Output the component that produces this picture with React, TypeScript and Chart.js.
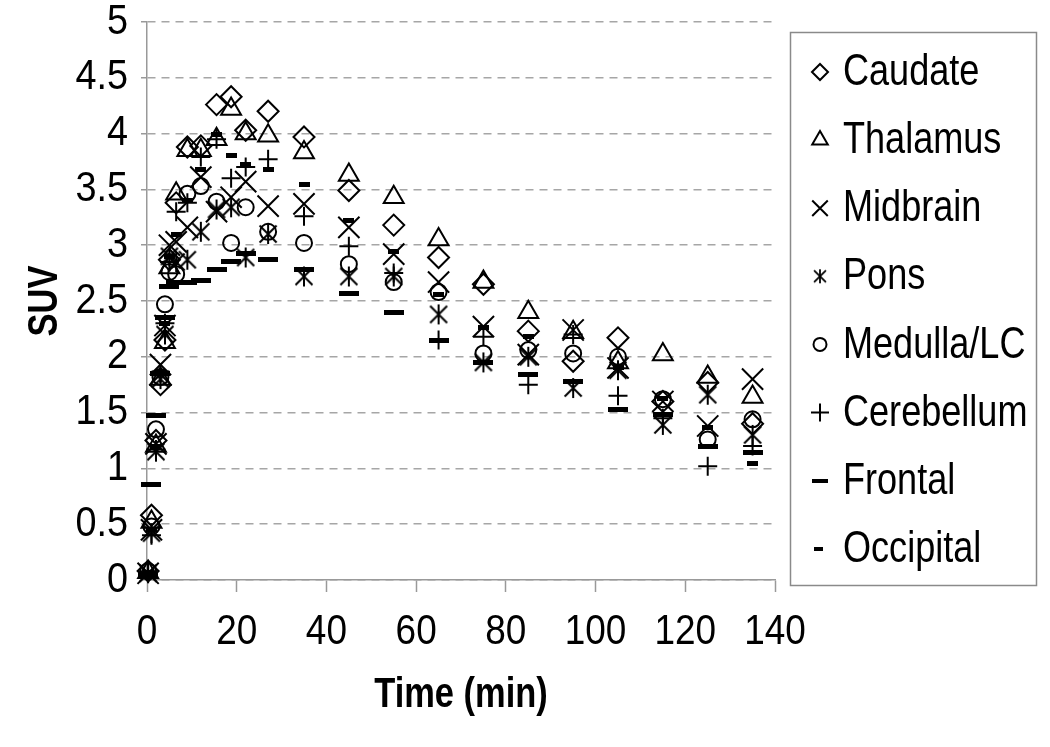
import React, { useEffect, useRef } from "react";
import { Chart, registerables } from "chart.js";
import { drawPoint } from "chart.js/helpers";

Chart.register(...registerables);

// ---- data ----
const times = [0.25, 1, 2, 3, 4, 5, 6.5, 9, 12, 15.5, 18.75, 22, 27, 35, 45, 55, 65, 75, 85, 95, 105, 115, 125, 135];
const caudate = [0.08, 0.58, 1.25, 1.75, 2.15, 2.87, 3.38, 3.88, 3.89, 4.26, 4.33, 4.03, 4.2, 3.97, 3.49, 3.18, 2.89, 2.65, 2.23, 1.96, 2.17, 1.6, 1.77, 1.4];
const thalamus = [0.07, 0.52, 1.2, 1.8, 2.13, 2.8, 3.46, 3.85, 3.85, 3.95, 4.22, 4.0, 3.98, 3.83, 3.63, 3.43, 3.05, 2.67, 2.4, 2.22, 1.95, 2.02, 1.82, 1.64];
const midbrain = [0.06, 0.45, 1.22, 1.93, 2.28, 3.0, 3.03, 3.16, 3.61, 3.3, 3.43, 3.57, 3.35, 3.37, 3.16, 2.92, 2.67, 2.27, 2.02, 2.24, 1.9, 1.6, 1.38, 1.8];
const pons = [0.06, 0.42, 1.15, 1.8, 2.2, 2.9, 2.85, 2.87, 3.12, 3.32, 3.34, 2.89, 3.1, 2.72, 2.72, 2.72, 2.38, 1.95, 2.0, 1.72, 1.88, 1.39, 1.66, 1.3];
const medulla = [0.08, 0.48, 1.35, 1.82, 2.47, 2.76, 2.74, 3.46, 3.53, 3.39, 3.02, 3.34, 3.12, 3.02, 2.83, 2.67, 2.58, 2.03, 2.06, 2.03, 2.0, 1.62, 1.26, 1.44];
const cerebellum = [0.07, 0.4, 1.17, 1.85, 2.3, 2.85, 3.3, 3.38, 3.79, 3.95, 3.6, 3.7, 3.77, 3.26, 2.99, 2.75, 2.15, 2.18, 1.75, 2.2, 1.65, 1.45, 1.02, 1.2];
const frontal = [0.05, 0.86, 1.47, 1.85, 2.35, 2.63, 2.67, 2.67, 2.68, 2.78, 2.85, 2.93, 2.87, 2.78, 2.57, 2.4, 2.15, 1.95, 1.84, 1.78, 1.53, 1.48, 1.2, 1.14];
const occipital = [0.07, 0.45, 1.2, 1.86, 2.3, 2.9, 3.1, 3.4, 3.68, 3.99, 3.8, 3.72, 3.68, 3.54, 3.22, 2.94, 2.56, 2.26, 2.18, 1.78, 1.9, 1.63, 1.37, 1.04];

const seriesNames = ["Caudate", "Thalamus", "Midbrain", "Pons", "Medulla/LC", "Cerebellum", "Frontal", "Occipital"];
const seriesValues = [caudate, thalamus, midbrain, pons, medulla, cerebellum, frontal, occipital];

const xTickValues = [0, 20, 40, 60, 80, 100, 120, 140];
const xTickLabels = ["0", "20", "40", "60", "80", "100", "120", "140"];
const yTickValues = [0, 0.5, 1, 1.5, 2, 2.5, 3, 3.5, 4, 4.5, 5];
const yTickLabels = ["0", "0.5", "1", "1.5", "2", "2.5", "3", "3.5", "4", "4.5", "5"];
const xTitle = "Time (min)";
const yTitle = "SUV";

const FONT = "'Liberation Sans', Arial, Helvetica, sans-serif";

function makeAsterisk(size: number, lw: number) {
  const c = document.createElement("canvas");
  c.width = size; c.height = size;
  const g = c.getContext("2d")!;
  g.strokeStyle = "#000"; g.lineWidth = lw;
  const m = size / 2, r = size / 2 - 1;
  g.beginPath();
  g.moveTo(m, m - r); g.lineTo(m, m + r);
  const d = r * 0.85;
  g.moveTo(m - d, m - d); g.lineTo(m + d, m + d);
  g.moveTo(m - d, m + d); g.lineTo(m + d, m - d);
  g.stroke();
  return c;
}
function makeBar(w: number, h: number) {
  const c = document.createElement("canvas");
  c.width = w; c.height = h;
  const g = c.getContext("2d")!;
  g.fillStyle = "#000"; g.fillRect(0, 0, w, h);
  return c;
}

function narrowText(ctx: CanvasRenderingContext2D, text: string, x: number, y: number, font: string, align: CanvasTextAlign, sx: number, rotate = 0) {
  ctx.save();
  ctx.translate(x, y);
  if (rotate) ctx.rotate(rotate);
  ctx.scale(sx, 1);
  ctx.font = font;
  ctx.fillStyle = "#000";
  ctx.textAlign = align;
  ctx.textBaseline = "middle";
  ctx.fillText(text, 0, 0);
  ctx.restore();
}

export default function App() {
  const ref = useRef<HTMLCanvasElement>(null);
  useEffect(() => {
    document.body.style.margin = "0";
    const asterisk = makeAsterisk(22, 2);
    const longBar = makeBar(20, 5);
    const shortBar = makeBar(11, 5);
    const asteriskL = makeAsterisk(16, 1.8);
    const longBarL = makeBar(16, 4);
    const shortBarL = makeBar(9, 4);

    const styles: any[] = ["rectRot", "triangle", "crossRot", asterisk, "circle", "cross", longBar, shortBar];
    const radii = [10.5, 11.5, 15, 10, 8, 9.5, 10, 6];
    const legendStyles: any[] = ["rectRot", "triangle", "crossRot", asteriskL, "circle", "cross", longBarL, shortBarL];
    const legendRadii = [8, 9, 11, 8, 6.5, 9, 8, 5];

    const datasets = seriesNames.map((name, i) => ({
      label: name,
      data: times.map((t, j) => ({ x: t, y: seriesValues[i][j] })),
      showLine: false,
      pointStyle: styles[i],
      pointRadius: radii[i],
      pointHoverRadius: radii[i],
      pointBorderColor: "#000",
      pointBackgroundColor: "rgba(0,0,0,0)",
      pointBorderWidth: 2,
      clip: false as any,
    }));

    const textPlugin = {
      id: "narrowTexts",
      afterDraw(chart: any) {
        const ctx = chart.ctx as CanvasRenderingContext2D;
        const xs = chart.scales.x, ys = chart.scales.y;
        const area = chart.chartArea;
        yTickValues.forEach((v, i) => {
          narrowText(ctx, yTickLabels[i], 128, ys.getPixelForValue(v), `42px ${FONT}`, "right", 0.9);
        });
        xTickValues.forEach((v, i) => {
          narrowText(ctx, xTickLabels[i], xs.getPixelForValue(v), 632, `42px ${FONT}`, "center", 0.88);
        });
        narrowText(ctx, xTitle, (area.left + area.right) / 2, 695, `bold 42px ${FONT}`, "center", 0.82);
        narrowText(ctx, yTitle, 45, (area.top + area.bottom) / 2, `bold 42px ${FONT}`, "center", 0.82, -Math.PI / 2);
        ctx.save();
        ctx.strokeStyle = "#8a8a8a";
        ctx.lineWidth = 1.5;
        ctx.strokeRect(790.5, 32.5, 246, 553);
        ctx.restore();
        seriesNames.forEach((name, i) => {
          const y = 72 + i * 68.1;
          ctx.save();
          ctx.strokeStyle = "#000";
          ctx.fillStyle = "rgba(0,0,0,0)";
          ctx.lineWidth = 2;
          drawPoint(ctx, { pointStyle: legendStyles[i], radius: legendRadii[i], borderWidth: 2, rotation: 0 } as any, i === 7 ? 818 : 820, y);
          ctx.restore();
          narrowText(ctx, name, 843, y + 1, `44px ${FONT}`, "left", 0.82);
        });
      },
    };

    const chart = new Chart(ref.current!, {
      type: "scatter",
      data: { datasets },
      plugins: [textPlugin],
      options: {
        animation: false,
        responsive: false,
        devicePixelRatio: 1,
        layout: { padding: { left: 0, right: 275, top: 22, bottom: 0 } },
        plugins: { legend: { display: false }, tooltip: { enabled: false } },
        scales: {
          x: {
            type: "linear",
            min: 0,
            max: 140,
            afterFit: (s: any) => { s.height = 167; },
            ticks: { stepSize: 20, display: false },
            grid: { drawOnChartArea: false, drawTicks: true, tickLength: 12, tickColor: "#999", tickWidth: 1.5 },
            border: { display: true, color: "#999", width: 1.5 },
            title: { display: false },
          },
          y: {
            type: "linear",
            min: 0,
            max: 5,
            afterFit: (s: any) => { s.width = 147; },
            ticks: { stepSize: 0.5, display: false },
            grid: { color: "#a6a6a6", lineWidth: 1.5, drawTicks: true, tickLength: 6, tickColor: "#999", tickWidth: 1.5, tickBorderDash: [] },
            border: { display: true, color: "#999", width: 1.5, dash: [8, 6] },
            title: { display: false },
          },
        },
      } as any,
    });
    return () => chart.destroy();
  }, []);
  return (
    <div style={{ width: 1050, height: 747, background: "#fff" }}>
      <canvas ref={ref} width={1050} height={747} style={{ display: "block" }} />
    </div>
  );
}
